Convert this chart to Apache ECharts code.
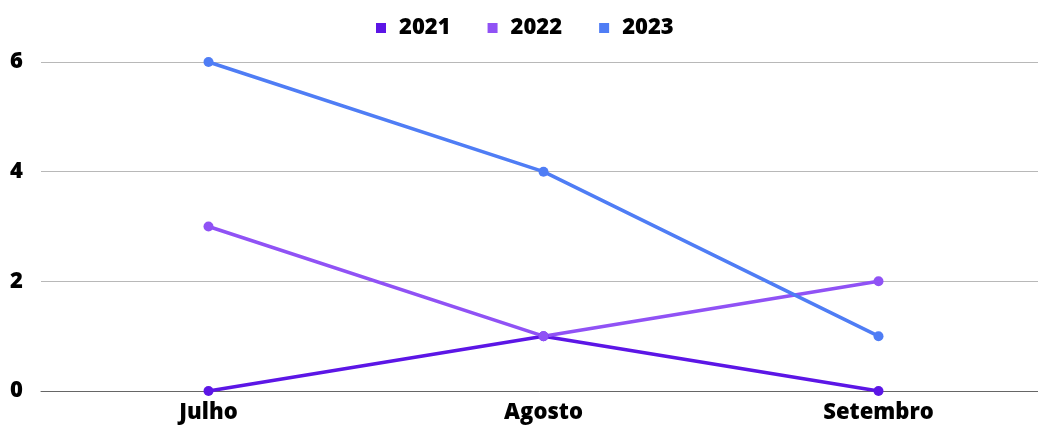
<!DOCTYPE html>
<html>
<head>
<meta charset="utf-8">
<script src="https://cdn.jsdelivr.net/npm/echarts@6/dist/echarts.min.js"></script>
<style>
  html, body { margin: 0; padding: 0; background: #fff; }
  #chart { width: 1038px; height: 430px; }
</style>
</head>
<body>
<div id="chart"></div>
<script>
// Months on the x axis
const months = ['Julho', 'Agosto', 'Setembro'];
// One series per year
const years = ['2021', '2022', '2023'];
const values2021 = [0, 1, 0];
const values2022 = [3, 1, 2];
const values2023 = [6, 4, 1];
const yTicks = [0, 2, 4, 6];

const colors = ['#5c16e6', '#9052f5', '#4f7df5'];
const font = 'Open Sans';

const chart = echarts.init(document.getElementById('chart'));
const seriesData = [values2021, values2022, values2023];

chart.setOption({
  animation: false,
  color: colors,
  textStyle: { fontFamily: font },
  legend: {
    top: 12,
    left: 371,
    itemWidth: 10,
    itemHeight: 10,
    itemGap: 37,
    icon: 'rect',
    textStyle: { fontFamily: font, fontWeight: 800, fontSize: 22, color: '#000', padding: [0, 0, 0, 8] },
    data: years
  },
  // the plot runs slightly past the right edge of the canvas
  grid: { left: 41, width: 1005, top: 62, bottom: 39, outerBoundsMode: 'none' },
  xAxis: {
    type: 'category',
    data: months,
    boundaryGap: true,
    axisLine: { show: true, lineStyle: { color: '#666', width: 1 } },
    axisTick: { show: false },
    axisLabel: { fontFamily: font, fontWeight: 800, fontSize: 22, color: '#000', margin: 11 }
  },
  yAxis: {
    type: 'value',
    min: yTicks[0],
    max: yTicks[yTicks.length - 1],
    interval: yTicks[1] - yTicks[0],
    axisLine: { show: false },
    axisTick: { show: false },
    splitLine: { lineStyle: { color: '#b8b8b8', width: 1 } },
    axisLabel: { fontFamily: font, fontWeight: 800, fontSize: 22, color: '#000', margin: 18 }
  },
  series: years.map((y, i) => ({
    name: y,
    type: 'line',
    data: seriesData[i],
    symbol: 'circle',
    symbolSize: 10,
    lineStyle: { width: 3.5 },
    itemStyle: { color: colors[i] }
  }))
});
</script>
</body>
</html>
